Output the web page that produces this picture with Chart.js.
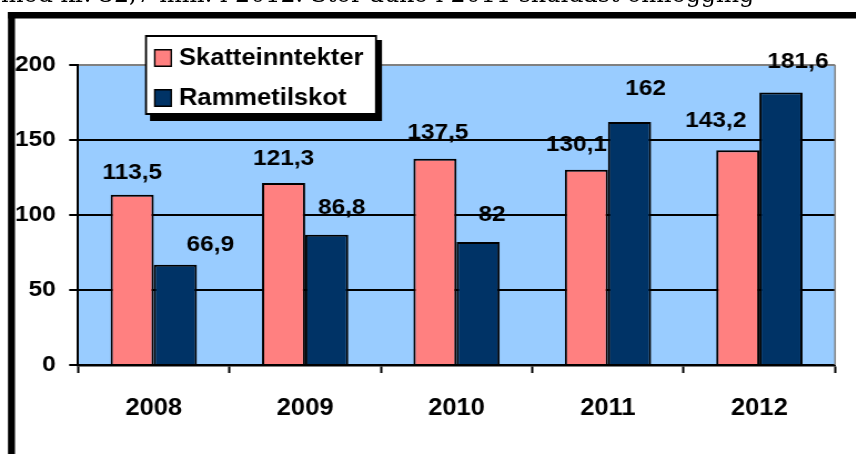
<!DOCTYPE html>
<html>
<head>
<meta charset="utf-8">
<script src="https://cdn.jsdelivr.net/npm/chart.js@4/dist/chart.umd.min.js"></script>
<style>
  html, body { margin: 0; padding: 0; background: #fff; overflow: hidden; width: 856px; height: 454px; }
  #caption { position: absolute; left: 1px; top: -13px; font-family: "DejaVu Serif", serif; font-size: 22px; line-height: 22px; white-space: nowrap; color: #000; z-index: 2; }
  #wrap { position: absolute; left: 0; top: 0; width: 771px; height: 454px; transform: scaleX(1.11); transform-origin: 0 0; }
</style>
</head>
<body>
<div id="caption">med kr. 32,7 mill. i 2012. Stor auke i 2011 skuldast omlegging</div>
<div id="wrap"><canvas id="myChart" width="771" height="454" style="width:771px;height:454px"></canvas></div>
<script>
// chart values
const years = ["2008", "2009", "2010", "2011", "2012"];
const skatteinntekter = [113.5, 121.3, 137.5, 130.1, 143.2];
const rammetilskot = [66.9, 86.8, 82, 162, 181.6];
const yMin = 0, yMax = 200, yStep = 50;

// the picture is stretched a bit sideways, canvas is drawn narrow and scaled
const SX = 1.11;

// fit the caption to its width in the picture
(function () {
    let cap = document.getElementById("caption");
    let ctx = document.createElement("canvas").getContext("2d");
    ctx.font = "100px 'DejaVu Serif'";
    let w = ctx.measureText(cap.textContent).width;
    let size = 100 * 752 / w;
    cap.style.fontSize = size.toFixed(1) + "px";
    cap.style.lineHeight = size.toFixed(1) + "px";
    cap.style.top = (5.5 - size * 0.93) + "px";
})();

const fmt = (v) => String(v).replace(".", ",");

// frame + blue plot background
const backdrop = {
    id: "backdrop",
    beforeDraw(chart) {
        let ctx = chart.ctx, a = chart.chartArea;
        ctx.save();
        ctx.fillStyle = "#ffffff";
        ctx.fillRect(0, 0, chart.width, chart.height);
        ctx.fillStyle = "#000000";
        ctx.fillRect(7.2, 12, chart.width, 6.5);
        ctx.fillRect(7.2, 12, 6.3, chart.height);
        ctx.fillStyle = "#99CCFF";
        ctx.fillRect(a.left, a.top, a.right - a.left, a.bottom - a.top);
        ctx.restore();
    },
    beforeDatasetsDraw(chart) {
        let ctx = chart.ctx, a = chart.chartArea;
        ctx.save();
        ctx.strokeStyle = "#808080";
        ctx.lineWidth = 1.5;
        ctx.beginPath();
        ctx.moveTo(a.right, a.top);
        ctx.lineTo(a.right, a.bottom);
        ctx.stroke();
        ctx.restore();
    }
};

// value labels, placed loosely above the bars like the original
const valueLabels = {
    id: "valueLabels",
    afterDatasetsDraw(chart, args, opts) {
        let ctx = chart.ctx;
        ctx.save();
        ctx.font = "bold 22px 'Liberation Sans', Arial, sans-serif";
        ctx.fillStyle = "#000";
        ctx.textAlign = "center";
        ctx.textBaseline = "middle";
        chart.data.datasets.forEach((ds, i) => {
            let meta = chart.getDatasetMeta(i);
            let nudge = opts.nudge[i];
            meta.data.forEach((bar, j) => {
                let dx = nudge[j][0] / SX;
                let dy = nudge[j][1];
                ctx.fillText(fmt(ds.data[j]), bar.x + dx, bar.y - dy);
            });
        });
        ctx.restore();
    }
};

// boxed legend with a drop shadow, sitting over the top of the plot
const boxLegend = {
    id: "boxLegend",
    afterDraw(chart) {
        let ctx = chart.ctx;
        let x = 145 / SX, y = 35, w = 232 / SX, h = 80;
        ctx.save();
        ctx.fillStyle = "#000";
        ctx.fillRect(x + 5 / SX, y + 5, w, h + 1);
        ctx.fillRect(x, y, w, h);
        ctx.fillStyle = "#fff";
        ctx.fillRect(x + 2 / SX, y + 2, w - 4 / SX, h - 4);
        ctx.font = "bold 23px 'Liberation Sans', Arial, sans-serif";
        ctx.textBaseline = "middle";
        ctx.textAlign = "left";
        chart.data.datasets.forEach((ds, i) => {
            let cy = 58 + i * 40;
            ctx.fillStyle = "#000";
            ctx.fillRect(154 / SX, cy - 9, 18 / SX, 18);
            ctx.fillStyle = ds.backgroundColor;
            ctx.fillRect(155.5 / SX, cy - 7.5, 15 / SX, 15);
            ctx.fillStyle = "#000";
            ctx.fillText(ds.label, 179 / SX, cy + 1);
        });
        ctx.restore();
    }
};

const myChart = new Chart(document.getElementById("myChart"), {
    type: "bar",
    data: {
        labels: years,
        datasets: [
            {
                label: "Skatteinntekter",
                data: skatteinntekter,
                backgroundColor: "#FF8080",
                borderColor: "#000",
                borderWidth: 2,
            },
            {
                label: "Rammetilskot",
                data: rammetilskot,
                backgroundColor: "#003366",
                borderColor: "#000",
                borderWidth: 2,
            },
        ],
    },
    options: {
        responsive: false,
        animation: false,
        events: [],
        categoryPercentage: 0.57,
        barPercentage: 1.0,
        layout: { padding: { top: 65, right: 18.7, left: 0, bottom: 0 } },
        plugins: {
            legend: { display: false },
            tooltip: { enabled: false },
            valueLabels: {
                nudge: [
                    [[0, 22], [0, 24], [3, 26], [-10, 25], [-22, 29]],
                    [[35, 20], [15, 27], [14, 27], [16, 33], [17, 31]],
                ],
            },
        },
        scales: {
            x: {
                grid: {
                    display: true,
                    drawOnChartArea: false,
                    drawTicks: true,
                    tickLength: 8,
                    tickColor: "#000",
                    tickWidth: 2,
                    offset: true,
                },
                border: { display: true, color: "#000", width: 2.5 },
                ticks: {
                    color: "#000",
                    padding: 22,
                    font: { family: "'Liberation Sans', Arial, sans-serif", size: 23, weight: "bold" },
                },
                afterFit: (scale) => { scale.height = 89; },
            },
            y: {
                min: yMin,
                max: yMax,
                grid: {
                    color: (c) => (c.tick && c.tick.value === yMax ? "#808080" : "#000"),
                    lineWidth: 2,
                    drawTicks: true,
                    tickLength: 8,
                    tickColor: "#000",
                    tickWidth: 2,
                },
                border: { display: true, color: "#000", width: 2 },
                ticks: {
                    stepSize: yStep,
                    color: "#000",
                    padding: 12,
                    font: { family: "'Liberation Sans', Arial, sans-serif", size: 22, weight: "bold" },
                },
                afterFit: (scale) => { scale.width = 70.3; },
            },
        },
    },
    plugins: [backdrop, valueLabels, boxLegend],
});
</script>
</body>
</html>
